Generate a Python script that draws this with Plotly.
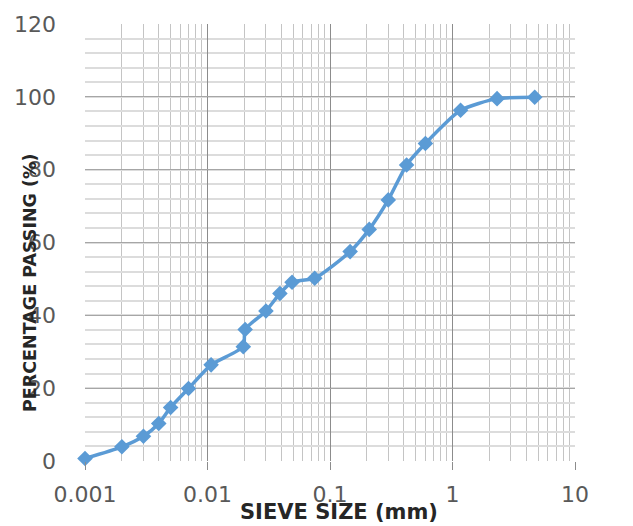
import plotly.graph_objects as go

# Data
sieve_size_mm = [0.001, 0.002, 0.003, 0.004, 0.005, 0.007, 0.0107, 0.0196, 0.0203,
                 0.030, 0.039, 0.049, 0.075, 0.146, 0.209, 0.299, 0.422, 0.601,
                 1.164, 2.31, 4.69]
percent_passing = [0.7, 3.9, 6.8, 10.3, 14.7, 19.9, 26.4, 31.4, 36.1,
                   41.2, 46.0, 49.1, 50.2, 57.5, 63.6, 71.7, 81.3, 87.2,
                   96.3, 99.5, 99.9]

x_tick_vals = [0.001, 0.01, 0.1, 1, 10]
x_tick_text = ["0.001", "0.01", "0.1", "1", "10"]
y_tick_vals = [0, 20, 40, 60, 80, 100, 120]

OFF = 8  # page body margin
W, H = 633 - OFF, 526 - OFF
ML, MT = 85 - OFF, 24 - OFF
MR, MB = 58, 65
pw = W - ML - MR
ph = H - MT - MB


def px_x(p):
    return (p - OFF - ML) / pw


def px_y(p):
    return (H - MB - (p - OFF)) / ph


blue = "#5B9BD5"
label_color = "#595959"

fig = go.Figure()
fig.add_trace(go.Scatter(
    x=sieve_size_mm, y=percent_passing, mode="lines+markers",
    line=dict(color=blue, width=3.5, shape="spline", smoothing=0.6),
    marker=dict(symbol="diamond", size=12, color=blue),
    showlegend=False, cliponaxis=False,
))

fig.update_layout(
    width=W, height=H,
    margin=dict(l=ML, r=MR, t=MT, b=MB, autoexpand=False),
    paper_bgcolor="white", plot_bgcolor="white",
    font=dict(family="DejaVu Sans", color=label_color),
    xaxis=dict(
        type="log", range=[-3, 1], automargin=False,
        tickvals=x_tick_vals, ticktext=x_tick_text,
        showgrid=True, gridcolor="#8c8c8c", gridwidth=1,
        ticks="outside", ticklen=8, tickcolor="#8c8c8c",
        tickfont=dict(size=22, color=label_color),
        ticklabelstandoff=6,
        minor=dict(dtick="D1", showgrid=True, gridcolor="#c4c4c4", gridwidth=1, ticks=""),
        showline=False, zeroline=False,
    ),
    yaxis=dict(
        range=[0, 120], tickvals=y_tick_vals, automargin=False,
        showgrid=True, gridcolor="#a6a6a6", gridwidth=1,
        ticks="",
        tickfont=dict(size=22, color=label_color),
        ticklabelstandoff=28,
        minor=dict(dtick=4, showgrid=True, gridcolor="#dcdcdc", gridwidth=1.5),
        showline=False, zeroline=False,
    ),
    annotations=[
        dict(text="<b>SIEVE SIZE (mm)</b>", xref="paper", yref="paper",
             x=px_x(339), y=px_y(512), xanchor="center", yanchor="middle",
             showarrow=False, font=dict(family="DejaVu Sans", size=21, color="#262626")),
        dict(text="<b>PERCENTAGE PASSING (%)</b>", xref="paper", yref="paper",
             x=px_x(30), y=px_y(283), xanchor="center", yanchor="middle",
             textangle=-90, showarrow=False,
             font=dict(family="DejaVu Sans", size=17.5, color="#262626")),
    ],
    shapes=[
        dict(type="rect", xref="paper", yref="paper",
             x0=px_x(7), x1=px_x(660),
             y0=px_y(560), y1=px_y(7),
             line=dict(color="#b0b0b0", width=2), fillcolor="rgba(0,0,0,0)", layer="above"),
    ],
)

fig.write_html("out.html")
